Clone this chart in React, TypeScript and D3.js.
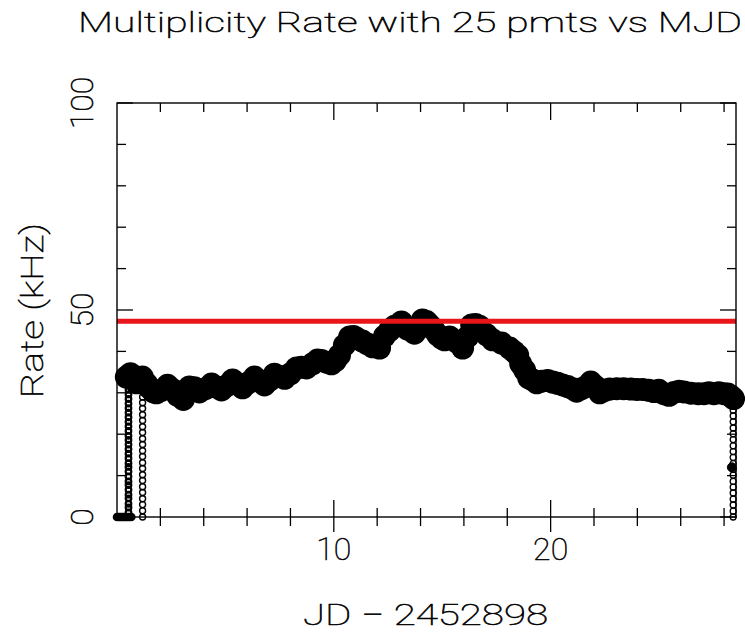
import React from "react";
import * as d3 from "d3";

// Daily-averaged multiplicity rate (kHz) vs. days since JD 2452898
const mainDays = [
  0.43, 0.62, 0.76, 0.9, 1.03, 1.17, 1.36, 1.5, 1.68, 1.82,
  2.05, 2.33, 2.56, 2.79, 3.06, 3.34, 3.57, 3.8, 4.08, 4.36,
  4.59, 4.82, 5.09, 5.33, 5.56, 5.79, 6.06, 6.34, 6.57, 6.8,
  7.03, 7.26, 7.49, 7.73, 8.0, 8.28, 8.51, 8.74, 9.02, 9.25,
  9.43, 9.66, 9.89, 10.08, 10.26, 10.49, 10.73, 10.91, 11.05, 11.32,
  11.55, 11.79, 12.11, 12.34, 12.57, 12.8, 13.12, 13.4, 13.72, 13.91,
  14.09, 14.28, 14.42, 14.6, 14.79, 14.97, 15.11, 15.34, 15.66, 15.94,
  16.17, 16.36, 16.54, 16.72, 17.05, 17.32, 17.74, 18.11, 18.3, 18.48,
  18.62, 18.8, 18.99, 19.17, 19.36, 19.59, 19.86, 20.09, 20.32, 20.55,
  20.79, 21.02, 21.2, 21.43, 21.66, 21.85, 22.08, 22.26, 22.5, 22.72,
  23.05, 23.37, 23.7, 23.98, 24.25, 24.53, 24.76, 24.99, 25.22, 25.46,
  25.69, 25.92, 26.15, 26.47, 26.8, 27.07, 27.3, 27.53, 27.76, 27.99,
  28.17, 28.31, 28.44,
];
const mainRates = [
  33.8, 34.6, 33.5, 32.4, 33.0, 33.8, 32.2, 31.2, 30.2, 30.0,
  30.6, 31.8, 30.8, 29.4, 28.4, 31.4, 31.2, 30.2, 31.0, 32.1,
  31.4, 30.7, 31.8, 33.1, 32.2, 31.2, 32.4, 33.8, 32.9, 31.9,
  33.0, 34.5, 34.0, 33.5, 34.6, 36.0, 36.2, 36.0, 37.0, 37.9,
  37.8, 37.4, 37.0, 37.8, 39.1, 41.5, 43.5, 43.6, 43.2, 42.5,
  41.8, 41.1, 40.8, 43.7, 45.0, 46.1, 47.1, 45.4, 44.4, 46.0,
  47.6, 47.2, 46.4, 45.3, 44.0, 43.2, 42.8, 43.5, 42.3, 40.8,
  43.5, 46.4, 46.5, 46.1, 44.0, 42.8, 42.0, 40.8, 40.0, 39.1,
  37.0, 35.5, 33.6, 33.1, 32.4, 32.8, 33.0, 32.6, 32.3, 31.9,
  31.5, 31.0, 30.4, 31.0, 31.6, 32.6, 31.5, 30.0, 30.6, 30.9,
  31.0, 31.0, 30.9, 30.8, 30.8, 30.6, 30.3, 30.6, 29.8, 29.4,
  30.1, 30.4, 30.2, 29.9, 29.8, 29.8, 30.0, 29.8, 30.0, 29.8,
  29.7, 29.2, 28.6,
];

// Detector switched off at the start of the run
const offDays = [0.0, 0.08, 0.16, 0.24, 0.32, 0.4, 0.48, 0.56, 0.66];
const offRates = [0, 0, 0, 0, 0, 0, 0, 0, 0];

// Ramp-up readings at the start of the run
const rampUpDay = 0.53;
const rampUpRates = [
  0.0, 1.1, 2.3, 3.2, 4.5, 5.4, 6.6, 7.7, 8.6, 9.8, 11.0, 12.1, 13.0, 14.2,
  15.3, 16.4, 17.5, 18.6, 19.6, 20.8, 21.9, 23.0, 24.1, 25.2, 26.3, 27.4,
  28.5, 29.6, 30.7, 31.8, 32.9, 34.0,
];
const restartDay = 1.18;
const restartRates = [
  0.0, 1.5, 3.0, 4.4, 5.9, 7.3, 8.8, 10.2, 11.7, 13.1, 14.6, 16.0, 17.5,
  18.9, 20.4, 21.8, 23.3, 24.7, 26.2, 27.6, 29.0,
];

// Ramp-down readings at the end of the run
const rampDownDay = 28.42;
const rampDownRates = [
  0.0, 1.4, 2.9, 4.3, 5.8, 7.2, 8.6, 10.1, 11.5, 12.9, 14.4, 15.8, 17.2,
  18.7, 20.1, 21.5, 23.0, 24.4, 25.8, 27.2,
];
const rampDownExtraDays = [28.36];
const rampDownExtraRates = [12.0];

// Reference rate level
const thresholdRate = 47.3;

// Axis ticks
const xMinorTicks = [2, 4, 6, 8, 12, 14, 16, 18, 22, 24, 26, 28];
const xMajorTicks = [10, 20];
const xTickLabels = ["10", "20"];
const yMinorTicks = [10, 20, 30, 40, 60, 70, 80, 90];
const yMajorTicks = [0, 50, 100];
const yTickLabels = ["0", "50", "100"];

const title = "Multiplicity Rate with 25 pmts vs MJD";
const xTitle = "JD \u2212 2452898";
const yTitle = "Rate (kHz)";

const W = 745;
const H = 634;
const left = 117;
const right = 736;
const top = 103;
const bottom = 517;

// Thin single-stroke look for all lettering
const textStyle = {
  fontFamily: "Roboto, 'DejaVu Sans', sans-serif",
  fontWeight: 100,
  fill: "#000",
  stroke: "#000",
  strokeWidth: 0.55,
} as const;

export default function App() {
  const x = d3.scaleLinear().domain([0, 28.55]).range([left, right]);
  const y = d3.scaleLinear().domain([0, 100]).range([bottom, top]);

  const minorLen = 9;
  const majorLen = 15;

  return (
    <svg
      width={W}
      height={H}
      viewBox={`0 0 ${W} ${H}`}
      style={{ position: "absolute", left: 0, top: 0, background: "#fff" }}
    >
      <rect x={0} y={0} width={W} height={H} fill="#fff" />

      {/* title */}
      <text
        x={78}
        y={32}
        style={textStyle}
        fontSize={27}
        textLength={664}
        lengthAdjust="spacingAndGlyphs"
      >
        {title}
      </text>

      {/* main trace */}
      <g fill="#000">
        {mainDays.map((d, i) => (
          <circle key={`m${i}`} cx={x(d)} cy={y(mainRates[i])} r={11.5} />
        ))}
      </g>

      {/* ramp and off-state readings */}
      <g fill="none" stroke="#000">
        {offDays.map((d, i) => (
          <circle key={`o${i}`} cx={x(d)} cy={y(offRates[i])} r={3.2} strokeWidth={2.2} />
        ))}
        {rampUpRates.map((r, i) => (
          <circle key={`u${i}`} cx={x(rampUpDay)} cy={y(r)} r={2.8} strokeWidth={2.2} />
        ))}
        {restartRates.map((r, i) => (
          <circle key={`s${i}`} cx={x(restartDay)} cy={y(r)} r={3} strokeWidth={1.4} />
        ))}
        {rampDownRates.map((r, i) => (
          <circle key={`d${i}`} cx={x(rampDownDay)} cy={y(r)} r={3} strokeWidth={1.3} />
        ))}
        {rampDownExtraDays.map((d, i) => (
          <circle
            key={`e${i}`}
            cx={x(d)}
            cy={y(rampDownExtraRates[i])}
            r={4.5}
            fill="#000"
          />
        ))}
      </g>

      {/* threshold */}
      <line
        x1={left}
        x2={right}
        y1={y(thresholdRate)}
        y2={y(thresholdRate)}
        stroke="#e8161b"
        strokeWidth={5}
      />

      {/* frame */}
      <rect
        x={left}
        y={top}
        width={right - left}
        height={bottom - top}
        fill="none"
        stroke="#000"
        strokeWidth={1.4}
      />

      {/* x ticks: bottom crosses the axis, top points inward */}
      <g stroke="#000" strokeWidth={1.3}>
        {xMinorTicks.map((t) => (
          <g key={`xm${t}`}>
            <line x1={x(t)} x2={x(t)} y1={bottom - minorLen} y2={bottom + minorLen} />
            <line x1={x(t)} x2={x(t)} y1={top} y2={top + minorLen} />
          </g>
        ))}
        {xMajorTicks.map((t) => (
          <g key={`xM${t}`}>
            <line x1={x(t)} x2={x(t)} y1={bottom - majorLen - 2} y2={bottom + majorLen} />
            <line x1={x(t)} x2={x(t)} y1={top} y2={top + majorLen + 2} />
          </g>
        ))}
        {yMinorTicks.map((t) => (
          <g key={`ym${t}`}>
            <line x1={left} x2={left + minorLen} y1={y(t)} y2={y(t)} />
            <line x1={right - minorLen} x2={right} y1={y(t)} y2={y(t)} />
          </g>
        ))}
        {yMajorTicks.map((t) => (
          <g key={`yM${t}`}>
            <line x1={left} x2={left + majorLen + 1} y1={y(t)} y2={y(t)} />
            <line x1={right - majorLen - 1} x2={right} y1={y(t)} y2={y(t)} />
          </g>
        ))}
      </g>

      {/* tick labels */}
      <g>
        {xMajorTicks.map((t, i) => (
          <text key={`xl${t}`} x={x(t)} y={560} textAnchor="middle" style={textStyle} fontSize={32}>
            {xTickLabels[i]}
          </text>
        ))}
        {yMajorTicks.map((t, i) => (
          <text
            key={`yl${t}`}
            transform={`translate(93, ${y(t)}) rotate(-90)`}
            textAnchor="middle"
            style={textStyle}
            fontSize={32}
          >
            {yTickLabels[i]}
          </text>
        ))}
      </g>

      {/* axis titles */}
      <text
        x={303}
        y={625}
        style={textStyle}
        fontSize={30}
        textLength={245}
        lengthAdjust="spacingAndGlyphs"
      >
        {xTitle}
      </text>
      <text
        transform={`translate(43, 398) rotate(-90)`}
        style={textStyle}
        fontSize={32}
        textLength={175}
        lengthAdjust="spacingAndGlyphs"
      >
        {yTitle}
      </text>
    </svg>
  );
}
